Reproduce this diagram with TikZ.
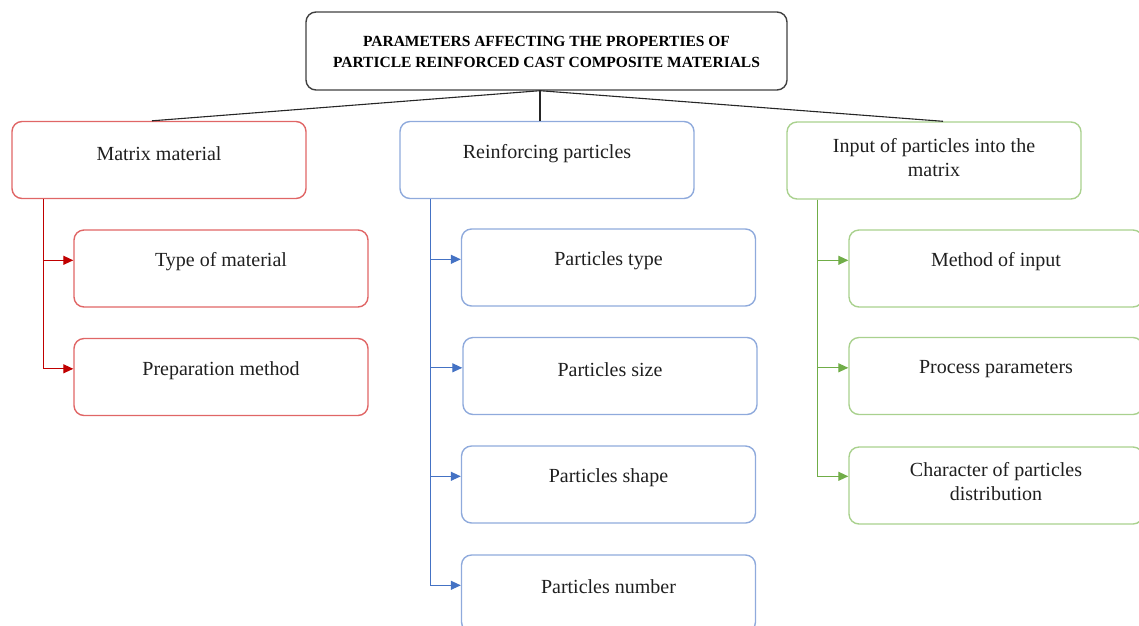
\documentclass[tikz,border=0pt]{standalone}
\usepackage{fontspec}
\setmainfont{Liberation Serif}
\usetikzlibrary{arrows.meta}
\definecolor{rbox}{HTML}{E06666}
\definecolor{rln}{HTML}{C00000}
\definecolor{bbox}{HTML}{8FAADC}
\definecolor{bln}{HTML}{4472C4}
\definecolor{gbox}{HTML}{A9D18E}
\definecolor{gln}{HTML}{70AD47}
\definecolor{tbox}{HTML}{404040}
\tikzset{
  box/.style={draw, rounded corners=10pt, line width=1.4pt, minimum width=294pt, minimum height=77pt, inner sep=0pt},
  tbx/.style={box, draw=tbox, minimum width=481pt, minimum height=78pt},
  rb/.style={box, draw=rbox},
  bb/.style={box, draw=bbox},
  gb/.style={box, draw=gbox},
  txt/.style={font=\fontsize{20}{24}\selectfont, align=center, inner sep=0pt, text=black!88},
  ttl/.style={font=\fontsize{15.5}{21}\selectfont\bfseries, align=center, inner sep=0pt},
  tln/.style={draw=black!85, line width=1.1pt},
  arr/.style={line width=1.2pt, -{Triangle[length=10pt,width=9pt]}},
  rl/.style={arr, draw=rln},
  bl/.style={arr, draw=bln},
  gl/.style={arr, draw=gln},
}
\begin{document}
\begin{tikzpicture}[x=1pt,y=-1pt]
\useasboundingbox (0,0) rectangle (1139,625);
\clip (0,0) rectangle (1139,625);
% title
\node[tbx] (t) at (546.5,51) {};
\node[ttl] (tt) at (546.5,51.5) {PARAMETERS AFFECTING THE PROPERTIES OF\\PARTICLE REINFORCED CAST COMPOSITE MATERIALS};
% level 1
\node[rb] (m) at (159,160) {};
\node[txt] (mt) at (159,153.5) {Matrix material};
\node[bb] (r) at (547,160) {};
\node[txt] (rtx) at (547,153.5) {Reinforcing particles};
\node[gb] (i) at (934,160.5) {};
\node[txt] (it) at (934,157.5) {Input of particles into the\\matrix};
% red children
\node[rb] (m1) at (221,268.5) {};
\node[txt] (m1t) at (221,261.5) {Type of material};
\node[rb] (m2) at (221,377) {};
\node[txt] (m2t) at (221,370.5) {Preparation method};
% blue children
\node[bb] (r1) at (608.5,267.5) {};
\node[txt] (r1t) at (608.5,260.5) {Particles type};
\node[bb] (r2) at (610,376) {};
\node[txt] (r2t) at (610,369.5) {Particles size};
\node[bb] (r3) at (608.5,484.5) {};
\node[txt] (r3t) at (608.5,477.5) {Particles shape};
\node[bb] (r4) at (608.5,593.5) {};
\node[txt] (r4t) at (608.5,586.5) {Particles number};
% green children
\node[gb] (i1) at (996,268.5) {};
\node[txt] (i1t) at (996,261.5) {Method of input};
\node[gb] (i2) at (996,376) {};
\node[txt] (i2t) at (996,369.5) {Process parameters};
\node[gb] (i3) at (996,485.5) {};
\node[txt] (i3t) at (996,481.5) {Character of particles\\distribution};
% title connectors
\coordinate (tj) at ([xshift=-6.5pt]t.south);
\draw[tln] (tj) -- ([xshift=-7pt]m.north);
\draw[tln] (tj) -- ([xshift=-7pt]r.north);
\draw[tln] (tj) -- ([xshift=9pt]i.north);
% red connectors
\coordinate (rs) at ([xshift=32pt]m.south west);
\draw[rl] (rs) |- ([yshift=-31pt]m1.north west);
\draw[rl] (rs) |- ([yshift=-31pt]m2.north west);
% blue connectors
\coordinate (bs) at ([xshift=31pt]r.south west);
\draw[bl] (bs) |- ([yshift=-31pt]r1.north west);
\draw[bl] (bs) |- ([yshift=-31pt]r2.north west);
\draw[bl] (bs) |- ([yshift=-31pt]r3.north west);
\draw[bl] (bs) |- ([yshift=-31pt]r4.north west);
% green connectors
\coordinate (gs) at ([xshift=31pt]i.south west);
\draw[gl] (gs) |- ([yshift=-31pt]i1.north west);
\draw[gl] (gs) |- ([yshift=-31pt]i2.north west);
\draw[gl] (gs) |- ([yshift=-30pt]i3.north west);
\end{tikzpicture}
\end{document}
